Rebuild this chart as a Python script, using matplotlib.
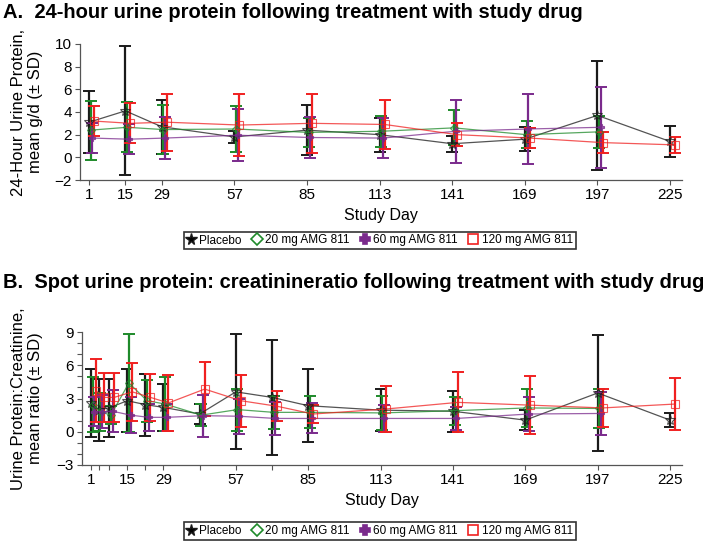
import matplotlib
matplotlib.use("Agg")
import matplotlib.pyplot as plt
from matplotlib.lines import Line2D
import numpy as np

plt.rcParams['font.family'] = ['Liberation Sans', 'DejaVu Sans']

# Datos - panel A (24-hour urine protein, g/d)
groups = ["Placebo", "20 mg AMG 811", "60 mg AMG 811", "120 mg AMG 811"]
days_a = [1, 15, 29, 57, 85, 113, 141, 169, 197, 225]
mean_a = {
    "Placebo":        [3.1, 4.1, 2.7, 1.8, 2.4, 2.0, 1.2, 1.6, 3.7, 1.4],
    "20 mg AMG 811":  [2.4, 2.65, 2.45, 2.5, 2.2, 2.3, 2.6, 2.0, 2.25, np.nan],
    "60 mg AMG 811":  [1.7, 1.6, 1.7, 1.95, 1.75, 1.7, 2.3, 2.5, 2.65, np.nan],
    "120 mg AMG 811": [3.2, 3.0, 3.1, 2.85, 3.0, 2.9, 2.0, 1.7, 1.3, 1.1],
}
sd_a = {
    "Placebo":        [2.72, 5.7, 2.4, 0.5, 2.2, 1.5, 0.7, 1.05, 4.8, 1.35],
    "20 mg AMG 811":  [2.6, 2.2, 2.15, 2.05, 1.25, 1.35, 1.55, 1.2, 1.4, np.nan],
    "60 mg AMG 811":  [1.3, 1.35, 1.85, 2.3, 1.8, 1.75, 2.8, 3.05, 3.55, np.nan],
    "120 mg AMG 811": [1.35, 1.75, 2.5, 2.7, 2.6, 2.2, 1.0, 0.85, 0.95, 0.7],
}

# Datos - panel B (spot urine protein:creatinine ratio)
days_b = [1, 4, 8, 15, 22, 29, 43, 57, 71, 85, 113, 141, 169, 197, 225]
mean_b = {
    "Placebo":        [2.6, 2.0, 2.15, 2.8, 2.45, 2.2, 1.6, 3.6, 3.1, 2.35, 1.95, 1.85, 1.05, 3.5, 1.05],
    "20 mg AMG 811":  [2.45, 1.8, 1.5, 4.4, 2.8, 2.5, 1.5, 2.0, 1.75, 1.75, 1.7, 1.9, 2.15, 2.1, np.nan],
    "60 mg AMG 811":  [1.8, 1.8, 1.85, 1.5, 1.3, 1.3, 1.45, 1.4, 1.2, 1.2, 1.2, 1.2, 1.6, 1.65, np.nan],
    "120 mg AMG 811": [3.7, 3.1, 3.1, 3.6, 3.1, 2.6, 3.85, 2.8, 2.3, 1.6, 2.05, 2.65, 2.4, 2.15, 2.5],
}
sd_b = {
    "Placebo":        [3.1, 2.8, 2.65, 2.85, 2.8, 2.1, 0.9, 5.2, 5.2, 3.3, 1.9, 1.85, 0.9, 5.2, 0.65],
    "20 mg AMG 811":  [2.45, 1.7, 0.8, 4.4, 1.9, 2.45, 1.0, 1.9, 1.5, 1.45, 1.5, 1.25, 1.75, 1.8, np.nan],
    "60 mg AMG 811":  [1.3, 1.5, 1.9, 1.6, 1.2, 1.2, 1.9, 1.6, 1.45, 1.35, 1.2, 1.0, 1.55, 1.9, np.nan],
    "120 mg AMG 811": [2.85, 2.2, 2.2, 2.6, 2.1, 2.55, 2.4, 2.35, 1.35, 0.85, 2.05, 2.7, 2.6, 1.75, 2.35],
}

day_labels = [1, 15, 29, 57, 85, 113, 141, 169, 197, 225]

# Estilos
colors = {"Placebo": "#1a1a1a", "20 mg AMG 811": "#1e8a2a",
          "60 mg AMG 811": "#7a2a8c", "120 mg AMG 811": "#f02020"}
markers = {"Placebo": "*", "20 mg AMG 811": "D",
           "60 mg AMG 811": "P", "120 mg AMG 811": "s"}
msizes = {"Placebo": 7, "20 mg AMG 811": 4.5, "60 mg AMG 811": 5, "120 mg AMG 811": 5.5}
offsets = {"Placebo": 0.0, "20 mg AMG 811": 0.65, "60 mg AMG 811": 1.3, "120 mg AMG 811": 1.95}
fill = {"Placebo": "none", "20 mg AMG 811": "none", "60 mg AMG 811": None, "120 mg AMG 811": "none"}


def draw_panel(ax, days, means, sds):
    for g in groups:
        x = np.array(days, dtype=float) + offsets[g]
        m = np.array(means[g], dtype=float)
        s = np.array(sds[g], dtype=float)
        ok = ~np.isnan(m)
        c = colors[g]
        ax.errorbar(x[ok], m[ok], yerr=s[ok], fmt='none', ecolor=c,
                    elinewidth=1.6, capsize=4, capthick=1.4, zorder=2)
        mfc = c if fill[g] is None else 'none'
        ax.plot(x[ok], m[ok], color=c, lw=0.9, alpha=0.75,
                marker=markers[g], ms=msizes[g], mfc=mfc, mec=c, mew=0.8, zorder=3)
    for side in ['top', 'right']:
        ax.spines[side].set_visible(False)
    for side in ['left', 'bottom']:
        ax.spines[side].set_color('#555555')
        ax.spines[side].set_linewidth(0.9)
    ax.set_xlim(-2.5, 229.6)
    ax.set_xticks(day_labels)
    ax.tick_params(axis='both', labelsize=11, length=3.5, width=0.8, pad=2.5,
                   colors='#555555', labelcolor='black')
    ax.set_xlabel('Study Day', fontsize=11.5)


fig = plt.figure(figsize=(7.03, 5.41), dpi=100)

ax1 = fig.add_axes([80 / 703, 1 - 180 / 541, 602 / 703, 136 / 541])
draw_panel(ax1, days_a, mean_a, sd_a)
ax1.set_ylim(-2, 10)
ax1.set_yticks(np.arange(-2, 11, 2))
ax1.set_ylabel('24-Hour Urine Protein,\nmean g/d (\u00b1 SD)', fontsize=12)
ax1.yaxis.set_label_coords((43 - 80) / 602, 0.5)

ax2 = fig.add_axes([82 / 703, 1 - 465 / 541, 600 / 703, 133 / 541])
draw_panel(ax2, days_b, mean_b, sd_b)
ax2.set_ylim(-3, 9)
ax2.set_yticks([-3, 0, 3, 6, 9])
ax2.set_yticks(np.arange(-3, 10, 1), minor=True)
ax2.set_xticks(days_b, minor=True)
ax2.tick_params(which='minor', length=3.5, width=0.8, colors='#555555')
ax2.set_ylabel('Urine Protein:Creatinine,\nmean ratio (\u00b1 SD)', fontsize=12)
ax2.yaxis.set_label_coords((43 - 82) / 600, 0.5)

# Títulos
fig.text(0.004, 1 - 12 / 541, 'A.  24-hour urine protein following treatment with study drug',
         fontsize=14.5, fontweight='bold', va='center', ha='left')
fig.text(0.004, 1 - 282 / 541,
         'B.  Spot urine protein: creatinineratio following treatment with study drug',
         fontsize=14.5, fontweight='bold', va='center', ha='left')

# Leyendas
handles = []
for g in groups:
    mfc = colors[g] if fill[g] is None else 'none'
    handles.append(Line2D([], [], linestyle='none', marker=markers[g],
                          ms=msizes[g] + 1.5, mfc=mfc, mec=colors[g],
                          mew=1.2 if g != "Placebo" else 1.0,
                          color=colors[g], label=g))
handles[0].set_markerfacecolor('black')
for yc in [1 - 240.5 / 541, 1 - 531 / 541]:
    leg = fig.legend(handles=handles, loc='center', bbox_to_anchor=(380 / 703, yc),
                     ncol=4, fontsize=8.5, frameon=True, fancybox=False,
                     handlelength=0.6, handletextpad=0.4, columnspacing=1.0,
                     borderpad=0.25, borderaxespad=0)
    leg.get_frame().set_edgecolor('black')
    leg.get_frame().set_linewidth(1.2)

plt.savefig('out.png', dpi=100)
